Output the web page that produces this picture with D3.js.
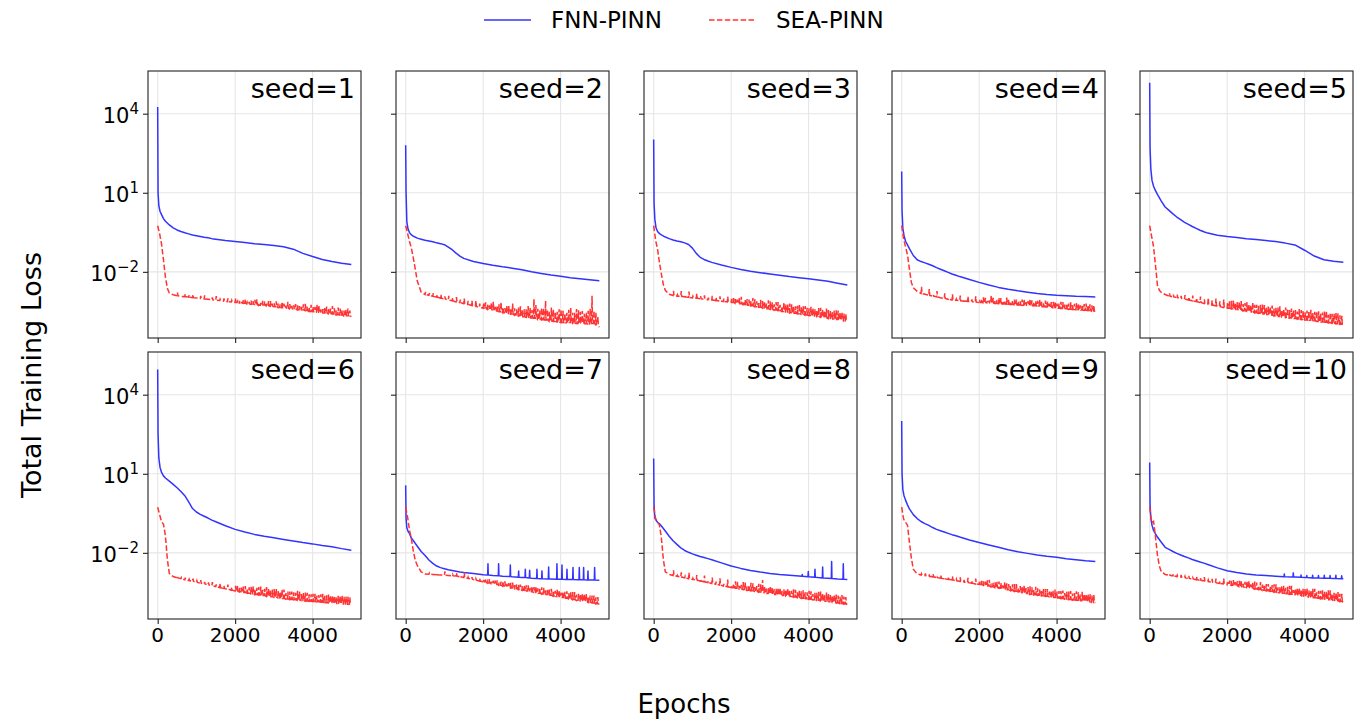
<!DOCTYPE html>
<html>
<head>
<meta charset="utf-8">
<script src="https://cdn.jsdelivr.net/npm/d3@7"></script>
<style>
  body { margin: 0; background: #fff; }
  text { font-family: "DejaVu Sans", sans-serif; fill: #000; }
</style>
</head>
<body>
<div id="chart"></div>
<script>
// values are log10(total training loss)
const fnnEpochs = [0, 10, 30, 60, 100, 150, 200, 300, 400, 500, 600, 700, 800, 900, 1000, 1100, 1200, 1300, 1400, 1500,
  1750, 2000, 2250, 2500, 2750, 3000, 3250, 3500, 3750, 4000, 4250, 4500, 4750, 5000];

const fnnLog1 = [4.25, 1.0, 0.5, 0.3, 0.17, 0.02, -0.08, -0.22, -0.33, -0.41, -0.47, -0.52, -0.56, -0.60, -0.63, -0.66, -0.69, -0.71, -0.74, -0.76,
  -0.81, -0.85, -0.89, -0.93, -0.96, -1.00, -1.05, -1.14, -1.30, -1.42, -1.53, -1.61, -1.67, -1.72];
const fnnLog2 = [2.80, 1.0, -0.1, -0.37, -0.52, -0.60, -0.65, -0.72, -0.76, -0.80, -0.83, -0.86, -0.90, -0.93, -0.97, -1.06, -1.16, -1.29, -1.40, -1.49,
  -1.61, -1.68, -1.75, -1.81, -1.86, -1.92, -2.00, -2.06, -2.12, -2.17, -2.22, -2.26, -2.30, -2.34];
const fnnLog3 = [3.02, 0.6, 0.0, -0.33, -0.47, -0.55, -0.60, -0.68, -0.74, -0.79, -0.83, -0.86, -0.90, -0.96, -1.10, -1.30, -1.45, -1.53, -1.59, -1.64,
  -1.74, -1.83, -1.91, -1.98, -2.03, -2.08, -2.13, -2.18, -2.22, -2.26, -2.31, -2.36, -2.43, -2.50];
const fnnLog4 = [1.81, 0.3, -0.35, -0.62, -0.84, -0.98, -1.12, -1.38, -1.54, -1.61, -1.66, -1.71, -1.77, -1.84, -1.90, -1.96, -2.02, -2.08, -2.13, -2.18,
  -2.29, -2.40, -2.50, -2.59, -2.66, -2.72, -2.77, -2.82, -2.86, -2.89, -2.91, -2.93, -2.94, -2.95];
const fnnLog5 = [5.17, 2.7, 1.9, 1.47, 1.25, 1.08, 0.94, 0.68, 0.46, 0.33, 0.20, 0.08, -0.02, -0.12, -0.20, -0.28, -0.35, -0.42, -0.48, -0.53,
  -0.61, -0.66, -0.70, -0.74, -0.77, -0.81, -0.85, -0.91, -0.98, -1.18, -1.40, -1.54, -1.60, -1.64];
const fnnLog6 = [4.96, 2.5, 1.6, 1.25, 1.05, 0.92, 0.84, 0.72, 0.60, 0.47, 0.33, 0.17, -0.07, -0.32, -0.45, -0.54, -0.61, -0.68, -0.76, -0.82,
  -0.97, -1.11, -1.21, -1.30, -1.37, -1.43, -1.49, -1.55, -1.61, -1.66, -1.72, -1.77, -1.84, -1.90];
const fnnLog7 = [0.56, -0.7, -1.05, -1.18, -1.27, -1.45, -1.54, -1.75, -1.95, -2.10, -2.27, -2.40, -2.50, -2.56, -2.60, -2.64, -2.67, -2.70, -2.73, -2.75,
  -2.78, -2.83, -2.86, -2.89, -2.91, -2.94, -2.96, -2.98, -2.99, -3.00, -3.01, -3.02, -3.03, -3.04];
const fnnLog8 = [1.58, -0.2, -0.68, -0.76, -0.84, -0.90, -0.98, -1.17, -1.37, -1.54, -1.68, -1.81, -1.91, -1.98, -2.04, -2.09, -2.14, -2.18, -2.22, -2.26,
  -2.38, -2.50, -2.59, -2.67, -2.73, -2.78, -2.82, -2.85, -2.88, -2.91, -2.94, -2.96, -2.99, -3.01];
const fnnLog9 = [3.0, 1.0, 0.40, 0.17, 0.0, -0.18, -0.33, -0.55, -0.70, -0.81, -0.89, -0.96, -1.04, -1.11, -1.16, -1.21, -1.26, -1.31, -1.35, -1.40,
  -1.51, -1.61, -1.70, -1.79, -1.88, -1.96, -2.02, -2.08, -2.13, -2.17, -2.22, -2.26, -2.30, -2.33];
const fnnLog10 = [1.43, -0.2, -0.68, -0.95, -1.15, -1.28, -1.40, -1.60, -1.79, -1.87, -1.95, -2.02, -2.08, -2.14, -2.19, -2.25, -2.30, -2.35, -2.39, -2.44,
  -2.57, -2.68, -2.75, -2.80, -2.84, -2.86, -2.89, -2.91, -2.92, -2.94, -2.95, -2.96, -2.97, -2.98];

// FNN spikes: [epoch, foot, peak]
const fnnSpikes7 = [[2117, -2.84, -2.41], [2392, -2.87, -2.41], [2694, -2.90, -2.46], [2909, -2.93, -2.69], [3081, -2.94, -2.62],
  [3193, -2.95, -2.66], [3382, -2.97, -2.62], [3511, -2.98, -2.69], [3683, -2.99, -2.54], [3898, -3.00, -2.41], [4028, -3.00, -2.46],
  [4157, -3.01, -2.62], [4312, -3.01, -2.56], [4475, -3.02, -2.56], [4587, -3.02, -2.56], [4699, -3.03, -2.69], [4871, -3.03, -2.56]];
const fnnSpikes8 = [[3829, -2.89, -2.82], [3984, -2.91, -2.71], [4157, -2.93, -2.62], [4355, -2.95, -2.54], [4587, -2.97, -2.33], [4888, -3.00, -2.41]];
const fnnSpikes10 = [[3468, -2.91, -2.80], [3700, -2.92, -2.76], [3900, -2.93, -2.84], [4050, -2.94, -2.86], [4200, -2.95, -2.85],
  [4350, -2.95, -2.86], [4500, -2.96, -2.85], [4650, -2.96, -2.86], [4800, -2.97, -2.85], [4950, -2.98, -2.87]];

const seaEpochs = [0, 50, 100, 150, 200, 250, 300,
  400, 500, 600, 700, 800, 900, 1000, 1100, 1200, 1300, 1400, 1500, 1600, 1700, 1800, 1900, 2000,
  2100, 2200, 2300, 2400, 2500, 2600, 2700, 2800, 2900, 3000, 3100, 3200, 3300, 3400, 3500, 3600, 3700, 3800, 3900, 4000,
  4100, 4200, 4300, 4400, 4500, 4600, 4700, 4800, 4900, 5000];

const seaLog1 = [-0.25, -0.55, -0.95, -1.55, -2.20, -2.62, -2.80,
  -2.87, -2.91, -2.93, -2.94, -2.96, -2.98, -2.99, -3.01, -3.03, -3.04, -3.06, -3.08, -3.09, -3.11, -3.13, -3.14, -3.16,
  -3.18, -3.19, -3.22, -3.23, -3.24, -3.27, -3.26, -3.29, -3.31, -3.32, -3.35, -3.36, -3.38, -3.40, -3.41, -3.44, -3.45, -3.47, -3.50, -3.51,
  -3.53, -3.56, -3.56, -3.59, -3.60, -3.63, -3.64, -3.67, -3.67, -3.70];
const seaLog2 = [-0.25, -0.55, -0.85, -1.12, -1.50, -1.92, -2.35,
  -2.77, -2.86, -2.89, -2.93, -2.96, -3.00, -3.03, -3.07, -3.10, -3.14, -3.17, -3.21, -3.24, -3.28, -3.31, -3.35, -3.38,
  -3.42, -3.44, -3.49, -3.51, -3.55, -3.58, -3.60, -3.64, -3.67, -3.70, -3.72, -3.75, -3.76, -3.80, -3.82, -3.83, -3.87, -3.88, -3.90, -3.92,
  -3.93, -3.92, -3.95, -3.96, -3.94, -3.97, -3.98, -3.96, -4.00, -4.10];
const seaLog3 = [-0.25, -0.80, -1.15, -1.65, -2.10, -2.48, -2.70,
  -2.85, -2.90, -2.92, -2.93, -2.95, -2.97, -2.99, -3.00, -3.02, -3.04, -3.06, -3.07, -3.09, -3.11, -3.12, -3.14, -3.16,
  -3.19, -3.21, -3.24, -3.27, -3.29, -3.32, -3.34, -3.37, -3.40, -3.42, -3.45, -3.47, -3.50, -3.52, -3.55, -3.57, -3.59, -3.61, -3.64, -3.66,
  -3.68, -3.70, -3.72, -3.75, -3.77, -3.79, -3.81, -3.83, -3.86, -3.88];
const seaLog4 = [-0.25, -0.75, -1.05, -1.35, -1.90, -2.40, -2.60,
  -2.74, -2.82, -2.85, -2.89, -2.92, -2.95, -2.98, -3.01, -3.04, -3.07, -3.08, -3.10, -3.11, -3.12, -3.13, -3.15, -3.16,
  -3.17, -3.18, -3.19, -3.20, -3.21, -3.22, -3.23, -3.24, -3.25, -3.26, -3.27, -3.27, -3.28, -3.29, -3.30, -3.32, -3.33, -3.35, -3.36, -3.38,
  -3.39, -3.40, -3.42, -3.43, -3.44, -3.45, -3.46, -3.47, -3.49, -3.50];
const seaLog5 = [-0.25, -0.65, -1.05, -1.75, -2.50, -2.70, -2.78,
  -2.86, -2.92, -2.95, -2.98, -3.01, -3.04, -3.07, -3.10, -3.13, -3.16, -3.20, -3.23, -3.26, -3.29, -3.32, -3.35, -3.38,
  -3.40, -3.43, -3.45, -3.48, -3.50, -3.52, -3.55, -3.57, -3.60, -3.62, -3.64, -3.67, -3.69, -3.71, -3.73, -3.75, -3.77, -3.79, -3.81, -3.83,
  -3.84, -3.86, -3.88, -3.90, -3.91, -3.93, -3.95, -3.97, -3.99, -4.01];
const seaLog6 = [-0.27, -0.55, -0.82, -0.92, -1.35, -2.25, -2.78,
  -2.90, -2.95, -2.98, -3.02, -3.05, -3.08, -3.12, -3.15, -3.18, -3.22, -3.25, -3.28, -3.32, -3.35, -3.38, -3.42, -3.45,
  -3.48, -3.50, -3.53, -3.55, -3.58, -3.60, -3.62, -3.65, -3.67, -3.69, -3.71, -3.73, -3.75, -3.77, -3.78, -3.80, -3.81, -3.83, -3.84, -3.85,
  -3.86, -3.87, -3.89, -3.90, -3.91, -3.92, -3.93, -3.94, -3.95, -3.96];
const seaLog7 = [-0.27, -0.65, -1.15, -1.50, -1.95, -2.30, -2.48,
  -2.72, -2.80, -2.81, -2.82, -2.83, -2.84, -2.85, -2.86, -2.87, -2.88, -2.91, -2.94, -2.97, -3.00, -3.04, -3.07, -3.10,
  -3.14, -3.17, -3.20, -3.23, -3.26, -3.30, -3.33, -3.36, -3.39, -3.42, -3.45, -3.48, -3.50, -3.53, -3.56, -3.58, -3.61, -3.64, -3.66, -3.69,
  -3.72, -3.74, -3.77, -3.80, -3.82, -3.85, -3.88, -3.90, -3.93, -3.96];
const seaLog8 = [-0.27, -0.70, -0.83, -0.95, -1.45, -2.25, -2.72,
  -2.82, -2.86, -2.89, -2.92, -2.95, -2.98, -3.01, -3.04, -3.07, -3.10, -3.13, -3.16, -3.19, -3.22, -3.26, -3.29, -3.32,
  -3.34, -3.37, -3.39, -3.42, -3.44, -3.46, -3.49, -3.51, -3.54, -3.56, -3.58, -3.60, -3.62, -3.64, -3.66, -3.68, -3.70, -3.72, -3.74, -3.76,
  -3.78, -3.80, -3.82, -3.84, -3.86, -3.88, -3.90, -3.92, -3.94, -3.96];
const seaLog9 = [-0.27, -0.72, -0.84, -0.95, -1.60, -2.20, -2.62,
  -2.80, -2.84, -2.86, -2.89, -2.91, -2.94, -2.96, -2.99, -3.01, -3.03, -3.06, -3.08, -3.11, -3.13, -3.15, -3.18, -3.20,
  -3.23, -3.26, -3.29, -3.32, -3.34, -3.37, -3.40, -3.43, -3.46, -3.48, -3.51, -3.54, -3.57, -3.59, -3.61, -3.63, -3.65, -3.67, -3.69, -3.71,
  -3.73, -3.75, -3.77, -3.79, -3.80, -3.82, -3.84, -3.86, -3.88, -3.90];
const seaLog10 = [-0.27, -0.85, -0.80, -1.40, -2.08, -2.50, -2.72,
  -2.82, -2.85, -2.87, -2.90, -2.92, -2.95, -2.97, -2.99, -3.02, -3.04, -3.06, -3.09, -3.11, -3.14, -3.16, -3.18, -3.21,
  -3.23, -3.25, -3.28, -3.30, -3.32, -3.35, -3.37, -3.39, -3.42, -3.44, -3.46, -3.49, -3.51, -3.53, -3.55, -3.57, -3.59, -3.62, -3.64, -3.66,
  -3.68, -3.70, -3.72, -3.74, -3.76, -3.78, -3.80, -3.83, -3.85, -3.87];

// SEA spike heights (decades) at epochs 400..5000
const seaRise1 = [0, 0.12, 0, 0.10, 0.08, 0.12, 0, 0.10, 0.14, 0, 0.09, 0.16, 0.05, 0.10, 0.12, 0.06, 0.15,
  0.08, 0.12, 0.06, 0.14, 0.18, 0.10, 0.16, 0.08, 0.20, 0.12, 0.15, 0.22, 0.10, 0.18, 0.14, 0.20, 0.12, 0.26, 0.15, 0.18,
  0.28, 0.14, 0.22, 0.18, 0.30, 0.16, 0.25, 0.20, 0.28, 0];
const seaRise2 = [0, 0.10, 0.08, 0.12, 0.10, 0.14, 0.10, 0.16, 0.12, 0.18, 0.12, 0.20, 0.14, 0.18, 0.22, 0.15, 0.20,
  0.18, 0.25, 0.16, 0.28, 0.20, 0.30, 0.22, 0.26, 0.32, 0.24, 0.30, 0.38, 0.73, 0.40, 0.45, 0.73, 0.35, 0.45, 0.38, 0.50,
  0.35, 0.48, 0.40, 0.55, 0.42, 0.38, 0.50, 1.05, 0.45, 0];
const seaRise3 = [0, 0.18, 0.05, 0.20, 0.08, 0.22, 0.06, 0.18, 0.10, 0.15, 0.08, 0.16, 0.12, 0.18, 0.10, 0.20, 0.14,
  0.16, 0.22, 0.12, 0.24, 0.18, 0.28, 0.15, 0.26, 0.20, 0.30, 0.22, 0.32, 0.18, 0.28, 0.35, 0.24, 0.30, 0.26, 0.34, 0.28,
  0.30, 0.25, 0.36, 0.28, 0.32, 0.26, 0.35, 0.30, 0.28, 0];
const seaRise4 = [0, 0.25, 0, 0.24, 0.05, 0.22, 0, 0.20, 0.04, 0.22, 0.05, 0.20, 0.06, 0.18, 0.08, 0.22, 0.10,
  0.20, 0.08, 0.30, 0.10, 0.22, 0.12, 0.25, 0.10, 0.20, 0.15, 0.22, 0.12, 0.26, 0.14, 0.20, 0.18, 0.24, 0.15, 0.22, 0.18,
  0.25, 0.16, 0.22, 0.20, 0.26, 0.18, 0.24, 0.20, 0.22, 0];
const seaRise5 = [0, 0.10, 0.08, 0.12, 0.10, 0.16, 0.12, 0.20, 0.14, 0.22, 0.16, 0.25, 0.18, 0.28, 0.20, 0.30, 0.22,
  0.30, 0.24, 0.32, 0.26, 0.35, 0.25, 0.30, 0.28, 0.36, 0.26, 0.32, 0.28, 0.34, 0.26, 0.38, 0.30, 0.33, 0.28, 0.36, 0.30,
  0.35, 0.30, 0.38, 0.32, 0.40, 0.30, 0.36, 0.42, 0.34, 0];
const seaRise6 = [0, 0.06, 0.04, 0.08, 0.05, 0.10, 0.06, 0.12, 0.08, 0.10, 0.14, 0.08, 0.16, 0.10, 0.18, 0.12, 0.20,
  0.15, 0.22, 0.18, 0.26, 0.20, 0.30, 0.22, 0.35, 0.24, 0.32, 0.26, 0.34, 0.22, 0.30, 0.28, 0.36, 0.25, 0.32, 0.27, 0.30,
  0.24, 0.30, 0.26, 0.32, 0.28, 0.25, 0.30, 0.27, 0.29, 0];
const seaRise7 = [0, 0, 0.04, 0, 0.06, 0, 0.15, 0, 0.05, 0.12, 0.04, 0.20, 0.05, 0.08, 0.06, 0.10, 0.08,
  0.12, 0.08, 0.15, 0.10, 0.18, 0.12, 0.20, 0.14, 0.18, 0.16, 0.22, 0.15, 0.20, 0.18, 0.25, 0.16, 0.22, 0.20, 0.26, 0.18,
  0.24, 0.20, 0.28, 0.22, 0.25, 0.30, 0.22, 0.28, 0.24, 0];
const seaRise8 = [0, 0.20, 0.04, 0.18, 0.06, 0.22, 0.05, 0.20, 0.08, 0.24, 0.06, 0.22, 0.10, 0.25, 0.08, 0.28, 0.10,
  0.26, 0.12, 0.28, 0.14, 0.30, 0.16, 0.32, 0.48, 0.18, 0.30, 0.20, 0.28, 0.18, 0.25, 0.22, 0.30, 0.20, 0.26, 0.24, 0.32,
  0.22, 0.28, 0.35, 0.24, 0.30, 0.26, 0.32, 0.25, 0.28, 0];
const seaRise9 = [0, 0.05, 0.08, 0.04, 0.10, 0.06, 0.12, 0.05, 0.10, 0.14, 0.06, 0.15, 0.08, 0.18, 0.10, 0.20, 0.12,
  0.15, 0.22, 0.12, 0.20, 0.25, 0.14, 0.24, 0.18, 0.28, 0.16, 0.24, 0.20, 0.30, 0.18, 0.26, 0.22, 0.28, 0.20, 0.25, 0.24,
  0.28, 0.22, 0.30, 0.25, 0.34, 0.24, 0.28, 0.30, 0.26, 0];
const seaRise10 = [0, 0.04, 0.06, 0.05, 0.08, 0.06, 0.10, 0.05, 0.12, 0.08, 0.14, 0.06, 0.12, 0.16, 0.08, 0.20, 0.10,
  0.18, 0.14, 0.22, 0.12, 0.24, 0.16, 0.28, 0.15, 0.22, 0.26, 0.18, 0.30, 0.20, 0.26, 0.22, 0.32, 0.18, 0.28, 0.24, 0.30,
  0.26, 0.34, 0.22, 0.30, 0.28, 0.36, 0.24, 0.32, 0.30, 0];

// extra SEA spikes (decades) at epochs 2050..4950
const seaMid1 = [0.10, 0.06, 0.15, 0.08, 0.12, 0.20, 0.09, 0.14, 0.18, 0.10, 0.20, 0.12, 0.16, 0.24, 0.11,
  0.19, 0.14, 0.22, 0.16, 0.25, 0.18, 0.26, 0.15, 0.24, 0.20, 0.22, 0.28, 0.18, 0.24, 0.20];
const seaMid2 = [0.22, 0.15, 0.30, 0.20, 0.35, 0.18, 0.28, 0.40, 0.22, 0.36, 0.28, 0.42, 0.30, 0.50, 0.34,
  0.45, 0.40, 0.52, 0.36, 0.48, 0.44, 0.38, 0.55, 0.40, 0.50, 0.45, 0.42, 0.58, 0.48, 0.30];
const seaMid3 = [0.20, 0.14, 0.26, 0.18, 0.22, 0.30, 0.20, 0.28, 0.24, 0.32, 0.26, 0.30, 0.22, 0.34, 0.28,
  0.32, 0.26, 0.36, 0.30, 0.28, 0.33, 0.27, 0.34, 0.30, 0.36, 0.28, 0.32, 0.34, 0.30, 0.26];
const seaMid4 = [0.12, 0.18, 0.10, 0.20, 0.14, 0.22, 0.12, 0.18, 0.16, 0.20, 0.14, 0.22, 0.16, 0.20, 0.18,
  0.24, 0.16, 0.22, 0.20, 0.24, 0.18, 0.24, 0.20, 0.26, 0.22, 0.24, 0.20, 0.26, 0.24, 0.22];
const seaMid5 = [0.26, 0.32, 0.28, 0.34, 0.30, 0.28, 0.36, 0.30, 0.32, 0.34, 0.30, 0.36, 0.32, 0.38, 0.30,
  0.34, 0.36, 0.32, 0.38, 0.34, 0.36, 0.40, 0.34, 0.38, 0.36, 0.42, 0.38, 0.36, 0.40, 0.32];
const seaMid6 = [0.20, 0.16, 0.24, 0.22, 0.28, 0.25, 0.32, 0.26, 0.30, 0.28, 0.32, 0.24, 0.34, 0.28, 0.30,
  0.26, 0.33, 0.28, 0.31, 0.27, 0.30, 0.26, 0.32, 0.28, 0.30, 0.27, 0.29, 0.31, 0.28, 0.26];
const seaMid7 = [0.10, 0.14, 0.12, 0.16, 0.14, 0.18, 0.15, 0.20, 0.17, 0.19, 0.18, 0.22, 0.20, 0.24, 0.18,
  0.23, 0.21, 0.25, 0.20, 0.24, 0.22, 0.26, 0.24, 0.28, 0.25, 0.27, 0.30, 0.26, 0.28, 0.25];
const seaMid8 = [0.14, 0.24, 0.16, 0.26, 0.18, 0.28, 0.20, 0.30, 0.24, 0.22, 0.26, 0.22, 0.28, 0.24, 0.30,
  0.22, 0.28, 0.26, 0.30, 0.24, 0.30, 0.26, 0.32, 0.28, 0.34, 0.26, 0.30, 0.28, 0.32, 0.26];
const seaMid9 = [0.18, 0.14, 0.24, 0.16, 0.22, 0.20, 0.26, 0.22, 0.24, 0.28, 0.22, 0.28, 0.24, 0.26, 0.30,
  0.22, 0.26, 0.28, 0.24, 0.30, 0.26, 0.30, 0.28, 0.32, 0.26, 0.30, 0.34, 0.28, 0.30, 0.28];
const seaMid10 = [0.16, 0.20, 0.18, 0.24, 0.20, 0.26, 0.22, 0.24, 0.28, 0.20, 0.26, 0.24, 0.30, 0.22, 0.28,
  0.26, 0.32, 0.24, 0.30, 0.28, 0.32, 0.26, 0.34, 0.28, 0.32, 0.30, 0.36, 0.28, 0.34, 0.30];

const xTicks = [0, 2000, 4000];
const yTickExps = [4, 1, -2];
const seriesNames = ["FNN-PINN", "SEA-PINN"];

const runs = [
  { seed: 1, fnn: fnnLog1, fnnSpikes: [], sea: seaLog1, rise: seaRise1, mid: seaMid1 },
  { seed: 2, fnn: fnnLog2, fnnSpikes: [], sea: seaLog2, rise: seaRise2, mid: seaMid2 },
  { seed: 3, fnn: fnnLog3, fnnSpikes: [], sea: seaLog3, rise: seaRise3, mid: seaMid3 },
  { seed: 4, fnn: fnnLog4, fnnSpikes: [], sea: seaLog4, rise: seaRise4, mid: seaMid4 },
  { seed: 5, fnn: fnnLog5, fnnSpikes: [], sea: seaLog5, rise: seaRise5, mid: seaMid5 },
  { seed: 6, fnn: fnnLog6, fnnSpikes: [], sea: seaLog6, rise: seaRise6, mid: seaMid6 },
  { seed: 7, fnn: fnnLog7, fnnSpikes: fnnSpikes7, sea: seaLog7, rise: seaRise7, mid: seaMid7 },
  { seed: 8, fnn: fnnLog8, fnnSpikes: fnnSpikes8, sea: seaLog8, rise: seaRise8, mid: seaMid8 },
  { seed: 9, fnn: fnnLog9, fnnSpikes: [], sea: seaLog9, rise: seaRise9, mid: seaMid9 },
  { seed: 10, fnn: fnnLog10, fnnSpikes: fnnSpikes10, sea: seaLog10, rise: seaRise10, mid: seaMid10 }
];

const width = 1361;
const height = 722;
const colLeft = [148, 396, 644, 892, 1140];
const rowTop = [71, 352];
const panelW = 213;
const panelH = 267;
const blue = "rgb(51,51,255)";
const red = "rgb(255,51,51)";
const dash = "5.5,2.4";

const svg = d3.select("#chart").append("svg")
  .attr("width", width)
  .attr("height", height);

const x = d3.scaleLinear().domain([-250, 5250]).range([0, panelW]);
const y = d3.scaleLog().domain([10 ** -4.51, 10 ** 5.62]).range([panelH, 0]);

const line = d3.line()
  .x(d => x(d[0]))
  .y(d => y(10 ** d[1]));

// FNN points with spikes merged in
function fnnPoints(run) {
  const pts = fnnEpochs.map((e, i) => [e, run.fnn[i]]);
  run.fnnSpikes.forEach(([e, foot, peak]) => {
    pts.push([e, foot, 0], [e + 8, peak, 1], [e + 16, foot, 2]);
  });
  pts.sort((a, b) => a[0] - b[0] || (a[2] || 0) - (b[2] || 0));
  return pts;
}

// SEA points: smooth head then base with spikes
function seaPoints(run) {
  const pts = [];
  seaEpochs.forEach((e, i) => {
    const v = run.sea[i];
    pts.push([e, v]);
    const r = i >= 7 ? run.rise[i - 7] : 0;
    if (r > 0) pts.push([e + 12, v + r], [e + 24, v]);
    const j = i - 23;
    if (j >= 0 && j < run.mid.length) {
      pts.push([e + 50, v], [e + 62, v + run.mid[j]], [e + 74, v]);
    }
  });
  return pts;
}

function expLabel(sel, exp) {
  sel.append("tspan").text("10");
  sel.append("tspan")
    .attr("dy", -9)
    .style("font-size", "15px")
    .text(exp < 0 ? "\u2212" + Math.abs(exp) : String(exp));
}

runs.forEach((run, i) => {
  const col = i % 5;
  const row = Math.floor(i / 5);
  const g = svg.append("g")
    .attr("transform", `translate(${colLeft[col]},${rowTop[row]})`);

  // grid
  g.selectAll(".gx").data(xTicks).join("line")
    .attr("x1", d => x(d)).attr("x2", d => x(d))
    .attr("y1", 0).attr("y2", panelH)
    .attr("stroke", "#e6e6e6").attr("stroke-width", 1.1);
  g.selectAll(".gy").data(yTickExps).join("line")
    .attr("x1", 0).attr("x2", panelW)
    .attr("y1", d => y(10 ** d)).attr("y2", d => y(10 ** d))
    .attr("stroke", "#e6e6e6").attr("stroke-width", 1.1);

  const clipId = "clip" + run.seed;
  g.append("clipPath").attr("id", clipId)
    .append("rect").attr("width", panelW).attr("height", panelH);

  const plot = g.append("g").attr("clip-path", `url(#${clipId})`);

  plot.append("path")
    .attr("d", line(fnnPoints(run)))
    .attr("fill", "none")
    .attr("stroke", blue)
    .attr("stroke-width", 1.5)
    .attr("stroke-linejoin", "round");

  plot.append("path")
    .attr("d", line(seaPoints(run)))
    .attr("fill", "none")
    .attr("stroke", red)
    .attr("stroke-width", 1.5)
    .attr("stroke-dasharray", dash);

  // axes
  const xAxis = g.append("g")
    .attr("transform", `translate(0,${panelH})`)
    .call(d3.axisBottom(x).tickValues(xTicks).tickSize(5).tickFormat(""));
  const yAxis = g.append("g")
    .call(d3.axisLeft(y).tickValues(yTickExps.map(d => 10 ** d)).tickSize(5).tickFormat(""));
  [xAxis, yAxis].forEach(a => {
    a.select(".domain").remove();
    a.selectAll(".tick line").attr("stroke", "#222").attr("stroke-width", 1.1);
  });

  if (row === 1) {
    g.selectAll(".xl").data(xTicks).join("text")
      .attr("x", d => x(d))
      .attr("y", panelH + 23)
      .attr("text-anchor", "middle")
      .style("font-size", "20px")
      .text(d => d);
  }
  if (col === 0) {
    yTickExps.forEach(exp => {
      const t = g.append("text")
        .attr("x", -9)
        .attr("y", y(10 ** exp) + 9)
        .attr("text-anchor", "end")
        .style("font-size", "21px");
      expLabel(t, exp);
    });
  }

  // frame
  g.append("rect")
    .attr("width", panelW).attr("height", panelH)
    .attr("fill", "none").attr("stroke", "#222").attr("stroke-width", 1.1);

  g.append("text")
    .attr("x", panelW - 6)
    .attr("y", 27)
    .attr("text-anchor", "end")
    .style("font-size", "27px")
    .text("seed=" + run.seed);
});

// legend
const legend = svg.append("g").attr("transform", "translate(0,20)");
[[484, blue, null], [709, red, dash]].forEach(([lx, color, da], i) => {
  legend.append("line")
    .attr("x1", lx).attr("x2", lx + 47)
    .attr("stroke", color).attr("stroke-width", 1.5)
    .attr("stroke-dasharray", da);
  legend.append("text")
    .attr("x", lx + 67).attr("y", 8)
    .style("font-size", "23px")
    .text(seriesNames[i]);
});

svg.append("text")
  .attr("transform", "translate(41,375) rotate(-90)")
  .attr("text-anchor", "middle")
  .style("font-size", "27px")
  .text("Total Training Loss");

svg.append("text")
  .attr("x", 684).attr("y", 713)
  .attr("text-anchor", "middle")
  .style("font-size", "26px")
  .text("Epochs");
</script>
</body>
</html>
